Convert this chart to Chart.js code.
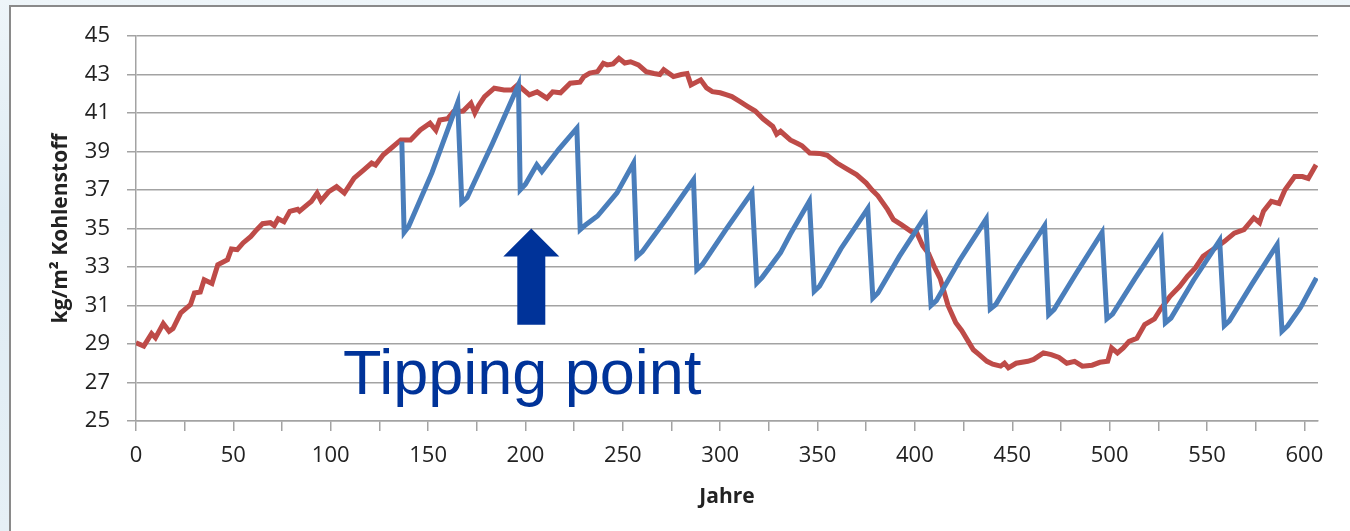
<!DOCTYPE html>
<html>
<head>
<meta charset="utf-8">
<script src="https://cdn.jsdelivr.net/npm/chart.js@4.4.1/dist/chart.umd.min.js"></script>
<style>
  html, body { margin: 0; padding: 0; }
  body {
    width: 1350px; height: 531px; overflow: hidden; position: relative;
    background: linear-gradient(180deg, #eef5f9 0%, #dfecf4 40%, #e6f0f6 100%);
  }
  #frame {
    position: absolute; left: 9px; top: 5px; width: 1360px; height: 540px;
    background: #fff; border: 2px solid #8a8a8a;
  }
  #chart { position: absolute; left: 0; top: 0; }
</style>
</head>
<body>
<div id="frame"></div>
<canvas id="chart" width="1350" height="531"></canvas>
<script>
// red: vegetation carbon without disturbance
const redYears = [0, 4, 8, 10, 14, 17, 19, 23, 28, 30, 33, 35, 39, 42, 47, 49, 52, 55, 59, 62,
  65, 69, 71, 73, 76, 79, 83, 84, 88, 90, 93, 95, 99, 103, 107, 112, 117, 121, 123, 127,
  131, 136, 141, 146, 151, 154, 156, 160, 163, 168, 172, 174, 176, 179, 184, 189, 193, 196, 202, 206,
  211, 214, 218, 223, 228, 230, 233, 237, 240, 242, 245, 248, 251, 254, 258, 262, 266, 269, 271, 276,
  280, 283, 285, 290, 293, 296, 300, 303, 306, 310, 314, 318, 322, 327, 329, 331, 336, 340, 342, 346,
  351, 355, 360, 365, 370, 375, 378, 381, 386, 389, 393, 398, 401, 404, 407, 410, 413, 417, 421, 424,
  427, 430, 433, 437, 440, 444, 446, 448, 452, 458, 461, 466, 470, 474, 478, 482, 486, 491, 495, 499,
  501, 504, 507, 510, 514, 518, 523, 526, 531, 536, 540, 544, 548, 553, 559, 564, 569, 574, 577, 579,
  583, 587, 590, 595, 599, 602, 606];
const redValues = [29.06, 28.89, 29.54, 29.32, 30.06, 29.66, 29.8, 30.62, 31.05, 31.65, 31.7, 32.34, 32.14, 33.12, 33.38, 33.94, 33.9, 34.25, 34.59, 34.94,
  35.25, 35.3, 35.15, 35.5, 35.35, 35.89, 36.0, 35.9, 36.24, 36.4, 36.84, 36.44, 36.92, 37.18, 36.84, 37.62, 38.05, 38.4, 38.3, 38.83,
  39.17, 39.6, 39.6, 40.12, 40.47, 40.1, 40.64, 40.7, 41.07, 41.1, 41.51, 41.0, 41.4, 41.85, 42.29, 42.2, 42.2, 42.46, 41.94, 42.1,
  41.77, 42.1, 42.05, 42.55, 42.6, 42.89, 43.07, 43.15, 43.58, 43.5, 43.55, 43.84, 43.6, 43.66, 43.5, 43.15, 43.05, 43.0, 43.25, 42.89,
  43.0, 43.05, 42.46, 42.72, 42.3, 42.11, 42.05, 41.95, 41.85, 41.6, 41.35, 41.1, 40.7, 40.3, 39.9, 40.05, 39.6, 39.4, 39.3, 38.92,
  38.9, 38.8, 38.4, 38.1, 37.8, 37.36, 37.0, 36.7, 35.98, 35.46, 35.2, 34.85, 34.77, 34.1, 33.7, 33.0, 32.4, 31.0, 30.1, 29.7,
  29.2, 28.7, 28.45, 28.1, 27.95, 27.85, 28.0, 27.76, 28.0, 28.1, 28.2, 28.54, 28.45, 28.3, 28.0, 28.1, 27.85, 27.9, 28.05, 28.1,
  28.8, 28.54, 28.8, 29.14, 29.3, 30.01, 30.3, 30.79, 31.48, 32.0, 32.52, 32.95, 33.55, 33.9, 34.33, 34.76, 34.94, 35.55, 35.3, 35.9,
  36.41, 36.3, 37.0, 37.7, 37.7, 37.6, 38.31];

// blue: with periodic harvest (sawtooth)
const blueYears = [136.5, 137.7, 140, 152, 165.2, 167.3, 170, 183, 196.4, 197.3,
  200, 205.8, 208.4, 217, 226.4, 228.1, 231, 237, 247, 255.5,
  257.2, 260, 273, 286.3, 288, 291, 303, 316.3, 318.8, 321.5,
  331, 336, 345.8, 348.3, 351, 362, 375.8, 378.4, 381, 392,
  405.3, 408.3, 411, 423, 436.6, 438.7, 441.5, 453, 466.6, 468.7,
  471.5, 483, 496.1, 498.6, 501.5, 513, 526.4, 528.6, 531.5, 543,
  556.5, 558.9, 561.5, 573, 586, 588.5, 591.5, 598, 606.2];
const blueValues = [39.52, 34.8, 35.1, 37.9, 41.54, 36.36, 36.6, 39.4, 42.46, 37.01,
  37.3, 38.31, 37.96, 39.1, 40.21, 34.94, 35.2, 35.65, 36.85, 38.4,
  33.55, 33.8, 35.6, 37.53, 32.86, 33.15, 34.95, 36.88, 32.17, 32.45,
  33.75, 34.7, 36.41, 31.74, 32.0, 33.95, 36.03, 31.39, 31.65, 33.55,
  35.63, 31.0, 31.25, 33.35, 35.49, 30.82, 31.05, 33.0, 35.15, 30.53,
  30.8, 32.7, 34.8, 30.31, 30.55, 32.4, 34.45, 30.1, 30.35, 32.3,
  34.38, 29.96, 30.2, 32.1, 34.16, 29.66, 29.95, 30.9, 32.43];

const yTicks = [25, 27, 29, 31, 33, 35, 37, 39, 41, 43, 45];

// annotation anchor in data units
const tipYear = 203;
const tipText = 'Tipping point';

const gridGray = '#a3a3a3';
const textGray = '#222222';
const annoBlue = '#003399';

const tippingPlugin = {
  id: 'tipping',
  afterDatasetsDraw(chart) {
    const { ctx, scales: { x, y } } = chart;
    const cx = x.getPixelForValue(tipYear);
    const tip = y.getPixelForValue(35);
    const headBase = y.getPixelForValue(33.55);
    const bottom = y.getPixelForValue(30);
    ctx.save();
    ctx.fillStyle = annoBlue;
    ctx.beginPath();
    ctx.moveTo(cx, tip);
    ctx.lineTo(cx + 28, headBase);
    ctx.lineTo(cx + 14, headBase);
    ctx.lineTo(cx + 14, bottom);
    ctx.lineTo(cx - 14, bottom);
    ctx.lineTo(cx - 14, headBase);
    ctx.lineTo(cx - 28, headBase);
    ctx.closePath();
    ctx.fill();
    ctx.font = '63px "Liberation Sans", Arial, sans-serif';
    ctx.textBaseline = 'alphabetic';
    ctx.textAlign = 'left';
    ctx.fillText(tipText, x.getPixelForValue(106.3), y.getPixelForValue(26.38));
    ctx.restore();
  }
};

const ctx = document.getElementById('chart').getContext('2d');
const carbonChart = new Chart(ctx, {
  type: 'line',
  data: {
    datasets: [{
      label: 'mit Ernte',
      data: blueYears.map((yr, i) => ({ x: yr, y: blueValues[i] })),
      borderColor: '#4a7ebb',
      borderWidth: 5,
      pointRadius: 0,
      tension: 0,
      fill: false
    }, {
      label: 'ohne Ernte',
      data: redYears.map((yr, i) => ({ x: yr, y: redValues[i] })),
      borderColor: '#be4b48',
      borderWidth: 5,
      pointRadius: 0,
      tension: 0,
      fill: false
    }]
  },
  plugins: [tippingPlugin],
  options: {
    responsive: false,
    animation: false,
    devicePixelRatio: 1,
    layout: { padding: { left: 0, top: 36, right: 32, bottom: 0 } },
    plugins: { legend: { display: false }, tooltip: { enabled: false } },
    scales: {
      x: {
        type: 'linear',
        min: 0,
        max: 607,
        afterFit: (s) => { s.height = 110; },
        ticks: {
          stepSize: 25,
          includeBounds: false,
          autoSkip: false,
          maxRotation: 0,
          padding: 12,
          color: textGray,
          font: { family: '"Open Sans", "Liberation Sans", sans-serif', size: 22 },
          callback: (v) => (v % 50 === 0 ? v : '')
        },
        grid: { drawOnChartArea: false, drawTicks: true, tickLength: 10, color: gridGray, lineWidth: 1.5 },
        border: { display: true, color: gridGray, width: 1.5 },
        title: {
          display: true,
          text: 'Jahre',
          color: textGray,
          font: { family: '"Open Sans", "Liberation Sans", sans-serif', size: 21, weight: 'bold' },
          padding: { top: 0, bottom: 21 }
        }
      },
      y: {
        min: 25,
        max: 45,
        afterFit: (s) => { s.width = 136; },
        afterBuildTicks: (s) => { s.ticks = yTicks.map(v => ({ value: v })); },
        ticks: {
          padding: 17,
          color: textGray,
          font: { family: '"Open Sans", "Liberation Sans", sans-serif', size: 22 }
        },
        grid: { drawOnChartArea: true, drawTicks: true, tickLength: 9, color: gridGray, lineWidth: 1.5 },
        border: { display: true, color: gridGray, width: 1.5 },
        title: {
          display: true,
          text: 'kg/m² Kohlenstoff',
          color: textGray,
          font: { family: '"Open Sans", "Liberation Sans", sans-serif', size: 21, weight: 'bold' },
          padding: { top: 48, bottom: 0 }
        }
      }
    }
  }
});
</script>
</body>
</html>
